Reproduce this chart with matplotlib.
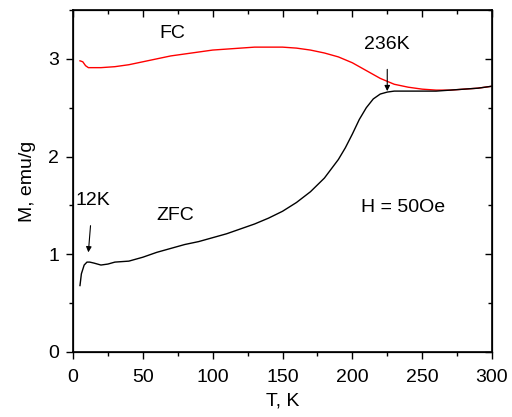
import numpy as np
import matplotlib
matplotlib.use("Agg")
import matplotlib.pyplot as plt
from matplotlib.ticker import MultipleLocator

plt.rcParams['font.family'] = ['Liberation Sans', 'DejaVu Sans']
FS = 14

# ---- data ----
T_fc = [5, 7, 9, 11, 15, 20, 30, 40, 50, 60, 70, 80, 90, 100, 110, 120, 130, 140,
        150, 160, 170, 180, 190, 200, 210, 220, 230, 240, 250, 260, 270, 280, 290, 300]
M_fc = [2.98, 2.97, 2.93, 2.91, 2.91, 2.91, 2.92, 2.94, 2.97, 3.00, 3.03, 3.05, 3.07,
        3.09, 3.10, 3.11, 3.12, 3.12, 3.12, 3.11, 3.09, 3.06, 3.02, 2.96, 2.88, 2.80,
        2.74, 2.71, 2.69, 2.68, 2.68, 2.69, 2.70, 2.72]

T_zfc = [5, 6, 8, 10, 12, 15, 20, 25, 30, 40, 50, 60, 70, 80, 90, 100, 110, 120, 130,
         140, 150, 160, 170, 180, 190, 195, 200, 205, 210, 215, 220, 225, 230, 240,
         250, 260, 270, 280, 290, 300]
M_zfc = [0.68, 0.80, 0.89, 0.92, 0.92, 0.91, 0.89, 0.90, 0.92, 0.93, 0.97, 1.02, 1.06,
         1.10, 1.13, 1.17, 1.21, 1.26, 1.31, 1.37, 1.44, 1.53, 1.64, 1.78, 1.97, 2.09,
         2.23, 2.38, 2.50, 2.59, 2.64, 2.66, 2.67, 2.67, 2.67, 2.67, 2.68, 2.69, 2.70, 2.72]

x_ticks = [0, 50, 100, 150, 200, 250, 300]
y_ticks = [0, 1, 2, 3]

fig = plt.figure(figsize=(5.12, 4.17), dpi=100)
ax = fig.add_axes([73 / 512, 65 / 417, 419 / 512, 342 / 417])

ax.plot(T_fc, M_fc, color='#ff0000', lw=1.0)
ax.plot(T_zfc, M_zfc, color='black', lw=1.0)

ax.set_xlim(0, 300)
ax.set_ylim(0, 3.5)
ax.set_xticks(x_ticks)
ax.set_yticks(y_ticks)
ax.xaxis.set_minor_locator(MultipleLocator(25))
ax.yaxis.set_minor_locator(MultipleLocator(0.5))

ax.tick_params(which='both', direction='out', top=False, right=False,
               labelsize=FS, width=1.0)
ax.tick_params(axis='x', which='major', pad=7)
ax.tick_params(axis='y', which='major', pad=5)
ax.tick_params(which='major', length=5)
ax.tick_params(which='minor', length=3)
for sp in ax.spines.values():
    sp.set_linewidth(1.2)

# inward ticks on top and right spines
ax2 = ax.twinx()
ax2.set_ylim(0, 3.5)
ax2.set_yticks(y_ticks)
ax2.yaxis.set_minor_locator(MultipleLocator(0.5))
ax2.tick_params(which='both', direction='in', labelright=False, width=1.0)
ax2.tick_params(which='major', length=5)
ax2.tick_params(which='minor', length=3)
ax3 = ax.twiny()
ax3.set_xlim(0, 300)
ax3.set_xticks(x_ticks)
ax3.xaxis.set_minor_locator(MultipleLocator(25))
ax3.tick_params(which='both', direction='in', labeltop=False, width=1.0)
ax3.tick_params(which='major', length=5)
ax3.tick_params(which='minor', length=3)

ax.set_xlabel('T, K', fontsize=FS, labelpad=5)
ax.set_ylabel('M, emu/g', fontsize=FS, labelpad=9)

ax.text(71, 3.26, 'FC', fontsize=FS, ha='center', va='center')
ax.text(73, 1.40, 'ZFC', fontsize=FS, ha='center', va='center')
ax.text(236, 1.48, 'H = 50Oe', fontsize=FS, ha='center', va='center')
ax.annotate('236K', xy=(225, 2.67), xytext=(225, 3.15), fontsize=FS,
            ha='center', va='center',
            arrowprops=dict(arrowstyle='-|>', color='black', lw=0.8,
                            shrinkA=10, shrinkB=0, mutation_scale=8))
ax.annotate('12K', xy=(11, 1.02), xytext=(14, 1.55), fontsize=FS,
            ha='center', va='center',
            arrowprops=dict(arrowstyle='-|>', color='black', lw=0.8,
                            shrinkA=10, shrinkB=0, mutation_scale=8))

fig.savefig('out.png', dpi=100)
